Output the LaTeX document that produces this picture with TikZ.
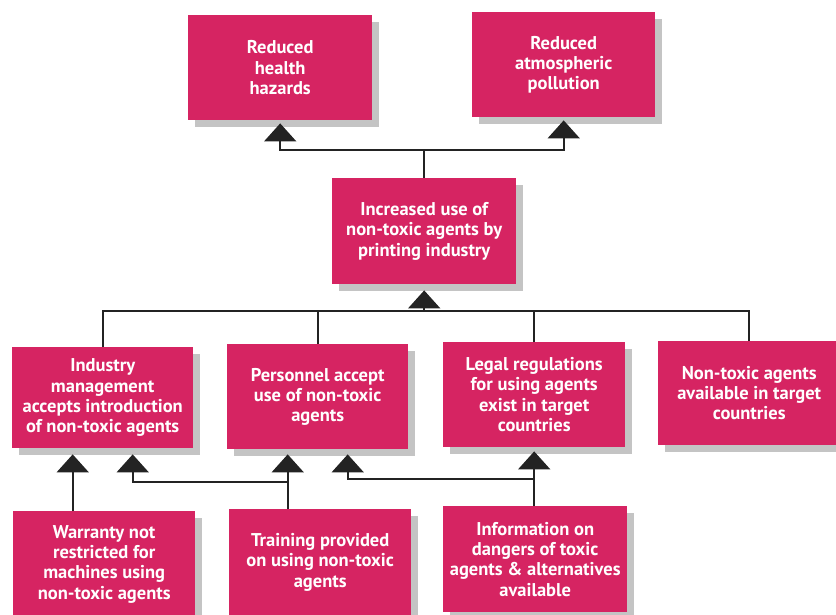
\documentclass[tikz,border=0pt]{standalone}
\usepackage{fontspec}
\setmainfont{PT Sans}
\usetikzlibrary{arrows.meta,shadows}
\definecolor{boxred}{RGB}{214,36,98}
\definecolor{shadowgray}{RGB}{196,196,196}
\definecolor{linedark}{RGB}{35,35,35}
\tikzset{
  box/.style={rectangle, fill=boxred, text=white, anchor=north west, align=center,
    font=\fontsize{18.5}{20.3}\selectfont\bfseries, inner sep=2pt,
    drop shadow={shadow xshift=7pt, shadow yshift=-7pt, fill=shadowgray, opacity=1}},
  conn/.style={draw=linedark, line width=1.8pt},
  arr/.style={conn, -{Triangle[width=32pt,length=18pt]}}
}
\begin{document}
\begin{tikzpicture}[x=1pt,y=-1pt]
\useasboundingbox (0,0) rectangle (836,615);
\clip (0,0) rectangle (836,615);
\node[box, minimum width=184pt, minimum height=105pt] (hea) at (188,15) {Reduced\\health\\hazards};
\node[box, minimum width=183pt, minimum height=105pt] (pol) at (472,12) {Reduced\\atmospheric\\pollution};
\node[box, minimum width=184pt, minimum height=106pt] (inc) at (332,178) {Increased use of\\non-toxic agents by\\printing industry};
\node[box, minimum width=181pt, minimum height=101pt] (ind) at (12,347) {Industry\\management\\accepts introduction\\of non-toxic agents};
\node[box, minimum width=181pt, minimum height=105pt] (per) at (227,344) {Personnel accept\\use of non-toxic\\agents};
\node[box, minimum width=182pt, minimum height=105pt] (leg) at (443,342) {Legal regulations\\for using agents\\exist in target\\countries};
\node[box, minimum width=182pt, minimum height=104pt] (non) at (658,341) {Non-toxic agents\\available in target\\countries};
\node[box, minimum width=182pt, minimum height=106pt] (war) at (13,511) {Warranty not\\restricted for\\machines using\\non-toxic agents};
\node[box, minimum width=182pt, minimum height=106pt] (tra) at (229,509) {Training provided\\on using non-toxic\\agents};
\node[box, minimum width=184pt, minimum height=106pt] (inf) at (443,506) {Information on\\dangers of toxic\\agents \& alternatives\\available};

% top level
\coordinate (thea) at ([yshift=-3pt]hea.south);
\coordinate (tpol) at ([yshift=-3pt]pol.south);
\coordinate (jtop) at (inc.north |- 0,150);
\draw[arr] (inc.north) -- (jtop) -| (thea);
\draw[arr] (jtop) -| (tpol);

% middle level
\coordinate (tinc) at ([yshift=-6pt]inc.south);
\coordinate (jmid) at (tinc |- 0,311);
\draw[arr] (ind.north) |- (jmid) -- (tinc);
\draw[conn] (per.north) -- (per.north |- jmid);
\draw[conn] (leg.north) -- (leg.north |- jmid);
\draw[conn] (non.north) |- (jmid);

% bottom level
\coordinate (t1) at ([xshift=-30pt,yshift=-6pt]ind.south);
\coordinate (t2) at ([xshift=30pt,yshift=-6pt]ind.south);
\coordinate (t3) at ([xshift=-30pt,yshift=-5pt]per.south);
\coordinate (t4) at ([xshift=30pt,yshift=-5pt]per.south);
\coordinate (t5) at ([yshift=-4pt]leg.south);
\draw[arr] (war.north -| t1) -- (t1);
\draw[arr] (tra.north -| t3) -- (t3);
\draw[arr] (tra.north -| t3) |- (t2 |- 0,482) -- (t2);
\draw[arr] (inf.north -| t5) -- (t5);
\draw[arr] (inf.north -| t5) |- (t4 |- 0,479) -- (t4);
\end{tikzpicture}
\end{document}
